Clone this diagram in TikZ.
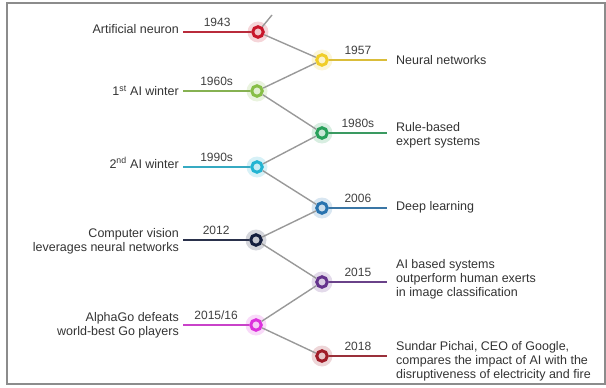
\documentclass[tikz,border=0pt]{standalone}
\usepackage{fontspec}
\setmainfont{Liberation Sans}
\usetikzlibrary{positioning}
\definecolor{tlred}{RGB}{200,22,42}
\definecolor{tlyellow}{RGB}{240,205,40}
\definecolor{tllime}{RGB}{135,190,70}
\definecolor{tlgreen}{RGB}{40,160,90}
\definecolor{tlcyan}{RGB}{35,180,210}
\definecolor{tlblue}{RGB}{40,115,175}
\definecolor{tlnavy}{RGB}{20,30,62}
\definecolor{tlpurple}{RGB}{100,50,140}
\definecolor{tlmagenta}{RGB}{220,50,220}
\definecolor{tlmaroon}{RGB}{160,28,40}
\tikzset{
  tldot/.style={circle,draw=#1,line width=3pt,fill=#1!25!white,minimum size=10.5pt,
    inner sep=0pt},
  tlglow/.style={circle,fill=#1,opacity=0.18,minimum size=21pt,inner sep=0pt},
  tllink/.style={line width=1.4pt,black!40},
  tlline/.style={line width=1.1pt,#1!80!gray},
  tlyear/.style={midway,above=4pt,inner sep=1pt,text=black!75,
    font=\fontsize{12}{12}\selectfont},
  tltext/.style={inner sep=0pt,text=black!80,font=\fontsize{12.5}{14}\selectfont},
  tlframe/.style={draw=black!45,line width=1.5pt},
}
\begin{document}
\begin{tikzpicture}[x=1pt,y=-1pt]
  \useasboundingbox (0,0) rectangle (606,388);
  \draw[tlframe] (7,3) rectangle (605,384);
  \foreach \n/\x/\y/\c in {1/258/32/tlred,2/322/60/tlyellow,3/257/91/tllime,
      4/322/133/tlgreen,5/257/167/tlcyan,6/322/208/tlblue,7/256/240/tlnavy,
      8/322/282/tlpurple,9/256/325/tlmagenta,10/322/356/tlmaroon}{
    \node[tlglow=\c] (g\n) at (\x,\y) {};
    \node[tldot=\c] (n\n) at (\x,\y) {};
  }
  \coordinate (start) at (272,15);
  \draw[tllink] (n1) -- (start);
  \foreach \a/\b in {1/2,2/3,3/4,4/5,5/6,6/7,7/8,8/9,9/10}
    \draw[tllink] (n\a) -- (n\b);
  \foreach \n/\y/\c/\yr/\ty/\txt in {
      1/32/tlred/1943/29/{Artificial neuron},
      3/91/tllime/1960s/91/{1\textsuperscript{st} AI winter},
      5/167/tlcyan/1990s/163/{2\textsuperscript{nd} AI winter},
      7/240/tlnavy/2012/241/{Computer vision\\leverages neural networks},
      9/325/tlmagenta/{2015/16}/325/{AlphaGo defeats\\world-best Go players}}{
    \coordinate (l\n) at (183,\y);
    \draw[tlline=\c] (l\n) -- (n\n) node[tlyear] (y\n) {\yr};
    \node[tltext,anchor=east,align=right] (t\n) at (179,\ty) {\txt};
  }
  \foreach \n/\y/\c/\yr/\ty/\txt in {
      2/60/tlyellow/1957/60/{Neural networks},
      4/133/tlgreen/1980s/135/{Rule-based\\expert systems},
      6/208/tlblue/2006/207/{Deep learning},
      8/282/tlpurple/2015/279/{AI based systems\\outperform human exerts\\in image classification},
      10/356/tlmaroon/2018/361/{Sundar Pichai, CEO of Google,\\compares the impact of AI with the\\disruptiveness of electricity and fire}}{
    \coordinate (r\n) at (387,\y);
    \draw[tlline=\c] (n\n) -- (r\n) node[tlyear] (y\n) {\yr};
    \node[tltext,anchor=west,align=left] (t\n) at (396,\ty) {\txt};
  }
\end{tikzpicture}
\end{document}
